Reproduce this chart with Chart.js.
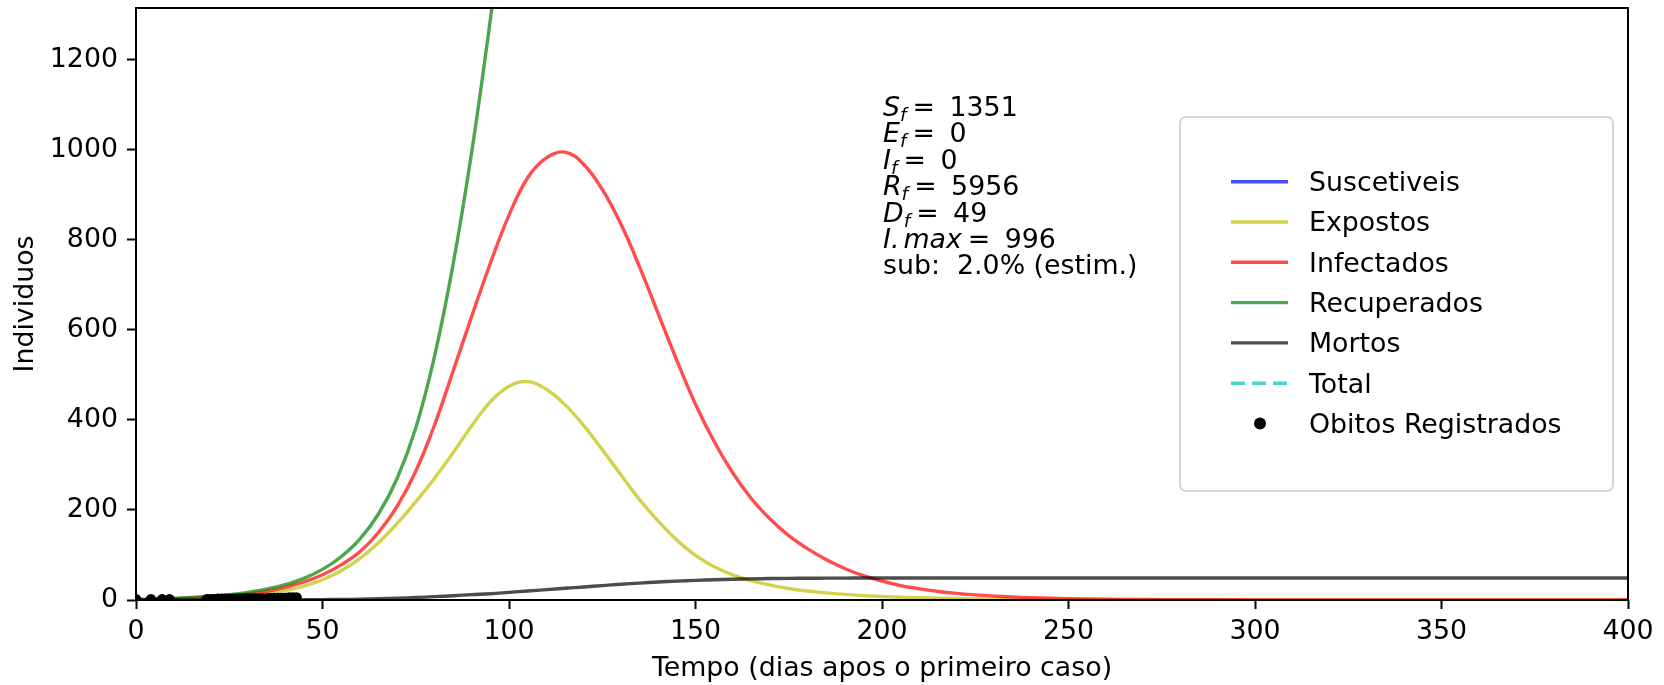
<!DOCTYPE html>
<html>
<head>
<meta charset="utf-8">
<script src="https://cdn.jsdelivr.net/npm/chart.js@4.4.0/dist/chart.umd.min.js"></script>
<style>
  body { margin: 0; background: #fff; }
  #grafico { display: block; }
</style>
</head>
<body>
<canvas id="grafico" width="1664" height="685"></canvas>
<script>
// dias da simulacao (eixo x)
const dias = [0, 5, 10, 15, 20, 25, 30, 35, 40, 45,
  50, 55, 60, 65, 70, 75, 80, 85, 90, 95,
  100, 105, 110, 115, 120, 125, 130, 135, 140, 145,
  150, 155, 160, 165, 170, 175, 180, 185, 190, 195,
  200, 205, 210, 215, 220, 225, 230, 235, 240, 245,
  250, 260, 270, 280, 300, 325, 350, 375, 400]

const suscetiveis = [7354, 7351, 7349, 7345, 7340, 7332, 7320, 7302, 7275, 7238,
  7185, 7115, 7015, 6885, 6700, 6450, 6120, 5700, 5195, 4650,
  4300, 3840, 3430, 3080, 2790, 2550, 2350, 2190, 2060, 1960,
  1880, 1810, 1750, 1700, 1660, 1620, 1590, 1560, 1530, 1510,
  1490, 1470, 1455, 1440, 1430, 1420, 1410, 1400, 1395, 1390,
  1385, 1376, 1370, 1365, 1358, 1354, 1352, 1351, 1351]

const expostos = [1, 1.5, 2.2, 3.2, 4.5, 6.5, 9.5, 14, 21, 31,
  45, 65, 92, 127, 170, 218, 270, 327, 387, 440,
  475, 485, 468, 434, 388, 334, 278, 223, 175, 133,
  99, 74, 56, 43, 33, 25.5, 20, 15.7, 12.4, 9.8,
  7.8, 6.2, 5, 4, 3.2, 2.5, 2, 1.6, 1.3, 1,
  0.8, 0.5, 0.3, 0.2, 0.1, 0, 0, 0, 0]

const infectados = [1, 2, 3, 4.5, 6.5, 9.5, 13.5, 19.5, 28, 40,
  56, 78, 107, 150, 208, 286, 388, 508, 630, 748,
  855, 938, 982, 995, 968, 912, 835, 740, 636, 532,
  435, 352, 282, 225, 180, 143, 114, 90, 70, 54,
  42, 32, 25, 19, 14.6, 11.3, 8.7, 6.7, 5.2, 4,
  3.1, 1.8, 1.1, 0.65, 0.25, 0.1, 0, 0, 0]

const recuperados = [0, 1.8, 3.6, 5.8, 8.5, 12, 17, 24, 34, 48,
  68, 96, 135, 191, 270, 382, 540, 745, 995, 1290,
  1620, 1990, 2380, 2780, 3170, 3540, 3890, 4210, 4490, 4730,
  4940, 5110, 5260, 5380, 5480, 5560, 5630, 5690, 5740, 5780,
  5810, 5835, 5860, 5880, 5895, 5905, 5915, 5923, 5930, 5935,
  5940, 5945, 5948, 5950, 5953, 5955, 5956, 5956, 5956]

const mortos = [0, 0, 0, 0, 0, 0, 0.1, 0.2, 0.3, 0.5,
  0.8, 1.2, 1.8, 2.7, 4, 5.5, 7.5, 9.5, 12, 14,
  17, 20, 23, 26, 29, 32, 35, 37.5, 40, 42,
  43.5, 45, 46, 47, 47.6, 48, 48.3, 48.5, 48.7, 48.8,
  48.9, 49, 49, 49, 49, 49, 49, 49, 49, 49,
  49, 49, 49, 49, 49, 49, 49, 49, 49]

const diasTotal = [0, 400]
const total = [7356, 7356]

// obitos registrados
const diasObitos = [0, 4, 7, 9, 19, 20, 21, 22, 23, 24, 25, 26, 27, 28, 29, 30, 31,
  32, 33, 34, 35, 36, 37, 38, 39, 40, 41, 42, 43]
const obitos = [1, 1, 1, 1, 1, 1, 1, 2, 2, 2, 2, 2, 2, 3, 3, 3, 3, 3, 3, 3, 3,
  4, 4, 4, 4, 4, 5, 5, 5]

const ticksX = [0, 50, 100, 150, 200, 250, 300, 350, 400]
const ticksY = [0, 200, 400, 600, 800, 1000, 1200]

// caixa de texto com o resumo
const resumoSimbolo = ['S', 'E', 'I', 'R', 'D']
const resumoValor = [1351, 0, 0, 5956, 49]
const infectadosMax = 996
const subnotificacao = '2.0%'


const pts = (xs, ys) => xs.map((x, i) => ({ x: x, y: ys[i] }))

function serie(label, cor, xs, ys, ordem, extra) {
  return Object.assign({
    label: label,
    data: pts(xs, ys),
    borderColor: cor,
    backgroundColor: cor,
    borderWidth: 3.4,
    pointRadius: 0,
    fill: false,
    tension: 0.4,
    clip: 0,
    order: ordem
  }, extra || {})
}

const fonte = '"DejaVu Sans", "Liberation Sans", sans-serif'
const tam = 26.8
Chart.defaults.font.family = fonte
Chart.defaults.font.size = tam
Chart.defaults.color = '#000'

function caixa(ctx, x, y, w, h, r) {
  ctx.beginPath()
  ctx.moveTo(x + r, y)
  ctx.arcTo(x + w, y, x + w, y + h, r)
  ctx.arcTo(x + w, y + h, x, y + h, r)
  ctx.arcTo(x, y + h, x, y, r)
  ctx.arcTo(x, y, x + w, y, r)
  ctx.closePath()
}

// moldura dos eixos (4 lados)
const moldura = {
  id: 'moldura',
  afterDatasetsDraw(chart) {
    const { ctx, chartArea: a } = chart
    ctx.save()
    ctx.strokeStyle = '#000'
    ctx.lineWidth = 2
    ctx.strokeRect(a.left, a.top, a.right - a.left, a.bottom - a.top)
    ctx.restore()
  }
}

const legenda = {
  id: 'legenda',
  afterDraw(chart) {
    const ctx = chart.ctx
    ctx.save()
    caixa(ctx, 1180, 117, 433, 374, 6)
    ctx.fillStyle = 'rgba(255,255,255,0.8)'
    ctx.fill()
    ctx.strokeStyle = '#d6d6d6'
    ctx.lineWidth = 2
    ctx.stroke()
    ctx.font = tam + 'px ' + fonte
    ctx.textBaseline = 'alphabetic'
    chart.data.datasets.forEach((d, i) => {
      const y = 181.7 + i * 40.3
      if (d.showLine === false) {
        ctx.beginPath()
        ctx.arc(1260, y, 6, 0, Math.PI * 2)
        ctx.fillStyle = d.pointBackgroundColor
        ctx.fill()
      } else {
        ctx.beginPath()
        ctx.setLineDash(d.borderDash || [])
        ctx.moveTo(1231, y)
        ctx.lineTo(1288, y)
        ctx.strokeStyle = d.borderColor
        ctx.lineWidth = d.borderWidth
        ctx.stroke()
        ctx.setLineDash([])
      }
      ctx.fillStyle = '#000'
      ctx.fillText(d.label, 1309, y + 9.4)
    })
    ctx.restore()
  }
}

const anotacao = {
  id: 'anotacao',
  afterDraw(chart) {
    const ctx = chart.ctx
    const normal = tam + 'px ' + fonte
    const italico = 'italic ' + tam + 'px ' + fonte
    const pequeno = 'italic 18.5px ' + fonte
    const x0 = 883, y0 = 116, passo = 26.4
    ctx.save()
    ctx.fillStyle = '#000'
    ctx.textBaseline = 'alphabetic'
    ctx.textAlign = 'left'
    const igual = (x, y, valor) => {
      x += 6
      ctx.font = normal
      ctx.fillText('=', x, y)
      x += ctx.measureText('=').width + 6
      ctx.fillText(' ' + valor, x, y)
    }
    resumoSimbolo.forEach((s, i) => {
      const y = y0 + i * passo
      let x = x0
      ctx.font = italico
      ctx.fillText(s, x, y)
      x += ctx.measureText(s).width
      ctx.font = pequeno
      ctx.fillText('f', x, y + 5)
      x += ctx.measureText('f').width
      igual(x, y, resumoValor[i])
    })
    let y = y0 + 5 * passo
    let x = x0
    ctx.font = italico
    ctx.fillText('I.', x, y)
    x += ctx.measureText('I.').width + 4
    ctx.fillText('max', x, y)
    x += ctx.measureText('max').width
    igual(x, y, infectadosMax)
    y = y0 + 6 * passo
    ctx.font = normal
    ctx.fillText('sub:  ' + subnotificacao + ' (estim.)', x0, y)
    ctx.restore()
  }
}

const eixo = {
  drawOnChartArea: false,
  drawTicks: true,
  tickLength: 9,
  tickWidth: 2,
  tickColor: '#000'
}

var grafico = new Chart(document.getElementById('grafico').getContext('2d'), {
  type: 'line',
  data: {
    datasets: [
      serie('Suscetiveis', 'rgba(0,0,255,0.7)', dias, suscetiveis, 7),
      serie('Expostos', 'rgba(191,191,0,0.7)', dias, expostos, 6),
      serie('Infectados', 'rgba(255,0,0,0.7)', dias, infectados, 5),
      serie('Recuperados', 'rgba(0,128,0,0.7)', dias, recuperados, 4),
      serie('Mortos', 'rgba(0,0,0,0.7)', dias, mortos, 3),
      serie('Total', 'rgba(0,191,191,0.7)', diasTotal, total, 2, { borderDash: [14, 7] }),
      serie('Obitos Registrados', '#000', diasObitos, obitos, 1, {
        showLine: false,
        pointRadius: 5.5,
        pointBorderWidth: 0,
        pointBackgroundColor: '#000'
      })
    ]
  },
  options: {
    responsive: false,
    animation: false,
    layout: { padding: { top: 8, right: 36, left: 0, bottom: 0 } },
    plugins: {
      legend: { display: false },
      tooltip: { enabled: false }
    },
    scales: {
      x: {
        type: 'linear',
        min: 0,
        max: 400,
        afterBuildTicks: s => { s.ticks = ticksX.map(v => ({ value: v })) },
        ticks: { padding: 7, maxRotation: 0, autoSkip: false, callback: v => String(v) },
        grid: eixo,
        border: { display: false },
        title: { display: true, text: 'Tempo (dias apos o primeiro caso)', padding: { top: 0, bottom: 0 } },
        afterFit: s => { s.height = 85; s.paddingLeft = 0; s.paddingRight = 0 }
      },
      y: {
        min: 0,
        max: 1315,
        afterBuildTicks: s => { s.ticks = ticksY.map(v => ({ value: v })) },
        ticks: { padding: 9, autoSkip: false, callback: v => String(v) },
        grid: eixo,
        border: { display: false },
        title: { display: true, text: 'Individuos', padding: { top: 10, bottom: 0 } },
        afterFit: s => { s.width = 136; s.paddingTop = 0; s.paddingBottom = 0 }
      }
    }
  },
  plugins: [moldura, legenda, anotacao]
})
</script>
</body>
</html>
